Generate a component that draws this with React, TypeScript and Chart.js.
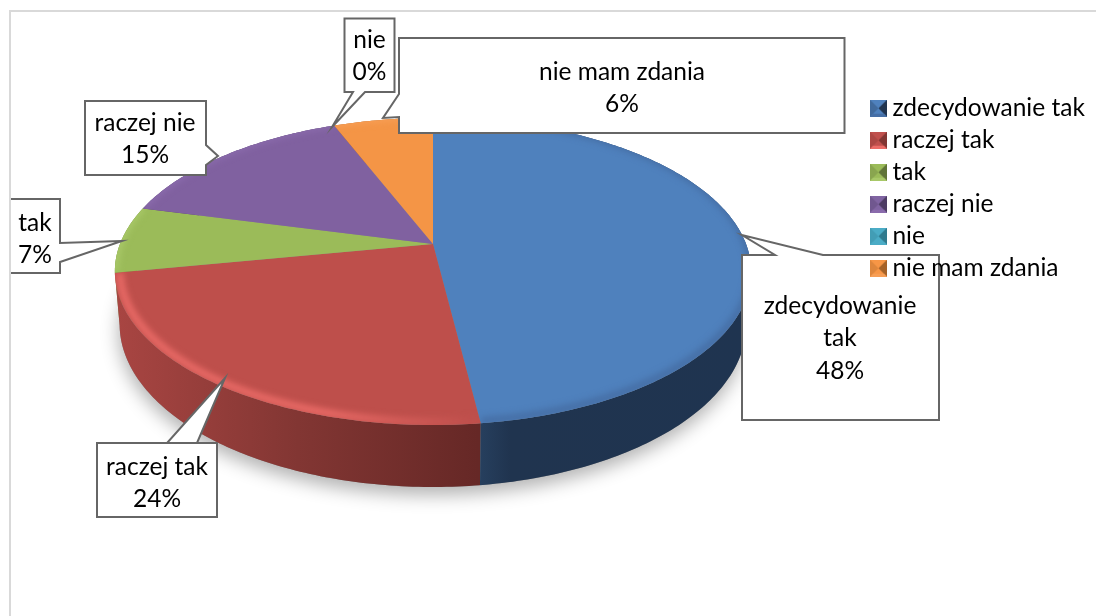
import React, { useEffect, useRef } from "react";
import { Chart, registerables } from "chart.js";

Chart.register(...registerables);

const categories = ["zdecydowanie tak", "raczej tak", "tak", "raczej nie", "nie", "nie mam zdania"];
const shares = [48, 24, 7, 15, 0, 6];
const topColors = ["#4F81BD", "#BE4F4B", "#9BBB59", "#8061A0", "#4BACC6", "#F49546"];
const markerColors = ["#4F81BD", "#C0504D", "#9BBB59", "#8064A2", "#4BACC6", "#F79646"];
const sideStops = [
  ["#27405F", "#20344F", "#1F3450"],
  ["#A84542", "#823633", "#662826"],
  ["#6E8540", "#5F7337", "#5F7337"],
  ["#5A4673", "#4D3C63", "#4D3C63"],
  ["#2F7A8D", "#2F7A8D", "#2F7A8D"],
  ["#B56D30", "#A56228", "#A56228"],
];
const rimColors = [
  ["#466FA6", "#3F6A9E"],
  ["#EC6C68", "#C0504D"],
  ["#A8C868", "#9BBB59"],
  ["#8A6BAC", "#8061A0"],
  ["#4BACC6", "#4BACC6"],
  ["#F79E55", "#F49546"],
];

// Callouts: label lines, text centre, box, and leader wedge
const calloutText = [
  ["zdecydowanie", "tak", "48%"],
  ["raczej tak", "24%"],
  ["tak", "7%"],
  ["raczej nie", "15%"],
  ["nie", "0%"],
  ["nie mam zdania", "6%"],
];
const calloutCentres = [[840, 306], [157, 467], [35, 223], [145, 123], [369.5, 40], [622, 72]];
const calloutBoxes = [
  [742, 255, 939, 420],
  [97, 443, 217, 517],
  [10, 199, 60, 273],
  [85, 101, 206, 175],
  [344.5, 18.5, 394.5, 92],
  [399, 38, 844.5, 133],
];
const calloutWedges = [
  [[775, 255], [742, 235], [823, 255]],
  [[197, 443], [225, 378], [167, 443]],
  [[60, 243], [122, 241], [60, 262]],
  [[206, 145], [218, 156], [206, 165]],
  [[365, 92], [332, 127], [353, 92]],
  [[399, 117], [383, 118], [399, 94]],
];

const FONT = "Lato";
const FONT_SIZE = 24.5;
const APEX_X = 433;
const APEX_Y = 244;
const PLANE_X = 313;
const PLANE_Y = 148.6;
const TILT = 0.179;
const DEPTH = 62;
const FLOOR_SHRINK = 0.985;

function project(angle: number, r: number, dropped: boolean) {
  const X = Math.cos(angle) * r;
  const Y = -Math.sin(angle) * r;
  const w = 1 + TILT * Y;
  const drop = dropped ? (DEPTH * (1 - TILT)) / w : 0;
  const shrink = dropped ? FLOOR_SHRINK : 1;
  return [APEX_X + (PLANE_X * shrink * X) / w, APEX_Y + (PLANE_Y * -Y) / w + drop];
}

function rimPoints(a0: number, a1: number, dropped: boolean, r = 1) {
  const pts: number[][] = [];
  const n = Math.max(2, Math.ceil((a1 - a0) / 0.015));
  for (let i = 0; i <= n; i++) pts.push(project(a0 + ((a1 - a0) * i) / n, r, dropped));
  return pts;
}

function trace(ctx: CanvasRenderingContext2D, pts: number[][]) {
  pts.forEach((p, i) => (i ? ctx.lineTo(p[0], p[1]) : ctx.moveTo(p[0], p[1])));
}

function marker(color: string, rim: string, dark: string) {
  const c = document.createElement("canvas");
  c.width = 17;
  c.height = 17;
  const g = c.getContext("2d") as CanvasRenderingContext2D;
  const tri = (pts: number[][], fill: string, alpha = 1) => {
    g.globalAlpha = alpha;
    g.fillStyle = fill;
    g.beginPath();
    trace(g, pts);
    g.closePath();
    g.fill();
    g.globalAlpha = 1;
  };
  g.fillStyle = color;
  g.fillRect(0, 0, 17, 17);
  tri([[0, 0], [8.5, 8.5], [0, 17]], dark, 0.3);
  tri([[17, 0], [17, 17], [8.5, 8.5]], dark);
  tri([[0, 17], [17, 17], [14, 14], [3, 14]], rim);
  return c;
}

function calloutOutline(box: number[], wedge: number[][]) {
  const [l, t, r, b] = box;
  const corners = [[l, t], [r, t], [r, b], [l, b]];
  const a = wedge[0];
  const c = wedge[2];
  const side = a[1] === t && c[1] === t ? 0 : a[0] === r && c[0] === r ? 1 : a[1] === b && c[1] === b ? 2 : 3;
  const out: number[][] = [];
  corners.forEach((p, i) => {
    out.push(p);
    if (i === side) out.push(...wedge);
  });
  return out;
}

const piePlugin = {
  id: "perspectivePie",
  afterLayout(chart: any) {
    const lg = chart.legend;
    lg.left = 869.2;
    lg.top = 88.5;
    lg.right = 1096;
    lg.bottom = 616;
  },
  beforeDraw(chart: any) {
    const ctx: CanvasRenderingContext2D = chart.ctx;
    const arcs: any[] = chart.getDatasetMeta(0).data;

    ctx.save();
    ctx.fillStyle = "#FFFFFF";
    ctx.fillRect(0, 0, chart.width, chart.height);

    // soft ground shadow
    const start = -Math.PI / 2;
    ctx.save();
    ctx.shadowColor = "rgba(0,0,0,0.3)";
    ctx.shadowBlur = 18;
    ctx.shadowOffsetY = 8;
    ctx.shadowOffsetX = -1;
    ctx.fillStyle = "#888";
    ctx.beginPath();
    trace(ctx, rimPoints(start, start + Math.PI * 2, true));
    ctx.closePath();
    ctx.fill();
    ctx.restore();

    // side walls, back slices first so the front ones stay on top
    for (let i = arcs.length - 1; i >= 0; i--) {
      const arc = arcs[i];
      if (arc.endAngle - arc.startAngle <= 0) continue;
      const isFirst = i === 0;
      const g = isFirst ? ctx.createLinearGradient(478, 0, 746, 0) : ctx.createLinearGradient(118, 0, 478, 0);
      g.addColorStop(0, sideStops[i][0]);
      g.addColorStop(isFirst ? 0.12 : 0.5, sideStops[i][1]);
      g.addColorStop(1, sideStops[i][2]);
      ctx.fillStyle = g;
      ctx.beginPath();
      trace(ctx, rimPoints(arc.startAngle, arc.endAngle, false));
      const low = rimPoints(arc.startAngle, arc.endAngle, true).reverse();
      low.forEach((p) => ctx.lineTo(p[0], p[1]));
      ctx.closePath();
      ctx.fill();
    }

    // top faces
    arcs.forEach((arc, i) => {
      if (arc.endAngle - arc.startAngle <= 0) return;
      const rim = rimPoints(arc.startAngle, arc.endAngle, false);
      ctx.save();
      ctx.beginPath();
      ctx.moveTo(APEX_X, APEX_Y);
      rim.forEach((p) => ctx.lineTo(p[0], p[1]));
      ctx.closePath();
      ctx.fillStyle = topColors[i];
      ctx.fill();
      ctx.clip();
      const glow = ctx.createLinearGradient(118, 0, 470, 0);
      glow.addColorStop(0, rimColors[i][0]);
      glow.addColorStop(0.6, rimColors[i][0]);
      glow.addColorStop(1, rimColors[i][1]);
      ctx.filter = "blur(3px)";
      ctx.strokeStyle = i === 1 ? glow : rimColors[i][0];
      ctx.lineWidth = i === 1 ? 7 : 8;
      ctx.beginPath();
      trace(ctx, i === 1 ? rimPoints(arc.startAngle, arc.endAngle, false, 0.985) : rim.map((p) => [p[0], p[1] - 2]));
      ctx.stroke();
      ctx.restore();
    });

    // callouts
    ctx.lineJoin = "miter";
    calloutBoxes.forEach((b, i) => {
      ctx.fillStyle = "#FFFFFF";
      ctx.strokeStyle = "#666666";
      ctx.lineWidth = 2;
      ctx.beginPath();
      trace(ctx, calloutOutline(b, calloutWedges[i]));
      ctx.closePath();
      ctx.fill();
      ctx.stroke();
      ctx.fillStyle = "#000000";
      ctx.font = `${FONT_SIZE}px ${FONT}`;
      ctx.textAlign = "center";
      ctx.textBaseline = "middle";
      calloutText[i].forEach((line, k) => {
        ctx.fillText(line, calloutCentres[i][0], calloutCentres[i][1] + k * 32.5);
      });
    });

    // outer frame
    ctx.fillStyle = "#D9D9D9";
    ctx.fillRect(9, 10, chart.width - 9, 2);
    ctx.fillRect(9, 10, 2, chart.height - 10);
    ctx.restore();
  },
  beforeDatasetsDraw() {
    return false;
  },
};

export default function App() {
  const ref = useRef<HTMLCanvasElement>(null);
  useEffect(() => {
    const icons = categories.map((_, i) => marker(markerColors[i], rimColors[i][0], sideStops[i][1]));
    const chart = new Chart(ref.current as HTMLCanvasElement, {
      type: "pie",
      data: {
        labels: categories,
        datasets: [{ data: shares, backgroundColor: topColors, borderWidth: 0 }],
      },
      options: {
        responsive: false,
        animation: false,
        plugins: {
          tooltip: { enabled: false },
          legend: {
            position: "right",
            align: "start",
            labels: {
              usePointStyle: true,
              pointStyleWidth: 3.5,
              padding: 7.5,
              color: "#000000",
              font: { family: FONT, size: FONT_SIZE },
              generateLabels: (c: any) =>
                c.data.labels.map((text: string, i: number) => ({
                  text,
                  pointStyle: icons[i],
                  fillStyle: markerColors[i],
                  strokeStyle: markerColors[i],
                  lineWidth: 0,
                  hidden: false,
                  index: i,
                })),
            },
          },
        },
      },
      plugins: [piePlugin],
    } as any);
    return () => chart.destroy();
  }, []);
  return (
    <canvas
      ref={ref}
      width={1096}
      height={616}
      style={{ position: "fixed", left: 0, top: 0, display: "block" }}
    />
  );
}
